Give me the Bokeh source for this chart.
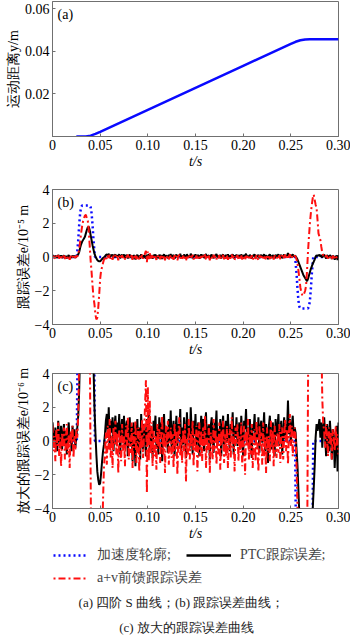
import numpy as np
from bokeh.plotting import figure
from bokeh.layouts import column
from bokeh.models import FixedTicker, Label, Range1d, Legend, LegendItem
from bokeh.embed import file_html
from bokeh.resources import INLINE

# ---------------- data ----------------
x_ticks = [0, 0.05, 0.10, 0.15, 0.20, 0.25, 0.30]
x_tick_labels = ["0", "0.05", "0.10", "0.15", "0.20", "0.25", "0.30"]
pos_ticks = [0, 0.02, 0.04, 0.06]
pos_tick_labels = ["", "0.02", "0.04", "0.06"]
err_ticks = [-4, -2, 0, 2, 4]
err_tick_labels = ["\u22124", "\u22122", "0", "2", "4"]

# (a) motion distance y / m
pos_t = [0.025, 0.030, 0.035, 0.040, 0.045, 0.050, 0.100, 0.150, 0.200, 0.250, 0.255, 0.260, 0.265, 0.270, 0.300]
pos_y = [0.0, 0.0, 0.00002, 0.0004, 0.0012, 0.0022, 0.0125, 0.0228, 0.0331, 0.0434, 0.0444, 0.0451, 0.0455, 0.0456, 0.0456]

# acceleration profile (shown in units of 1e-5 m)
acc_t = [0.0, 0.0255, 0.027, 0.028, 0.029, 0.030, 0.031, 0.039, 0.040, 0.041, 0.042, 0.043, 0.0445,
         0.2545, 0.256, 0.257, 0.258, 0.259, 0.260, 0.268, 0.269, 0.270, 0.271, 0.272, 0.2735, 0.300]
acc_v = [0.0, 0.0, 1.0, 1.9, 2.6, 2.95, 3.05, 3.05, 2.95, 2.6, 1.9, 1.0, 0.0,
         0.0, -1.0, -1.9, -2.6, -2.95, -3.05, -3.05, -2.95, -2.6, -1.9, -1.0, 0.0, 0.0]

# tracking errors, sampled every 1 ms, in units of 1e-6 m
sample_period = 0.001

# PTC tracking error
ptc_start = [1.1, 0.3, -0.4, 0.8, 0.2, -0.6, 1.2, 0.1, -0.2, 0.9,
             -0.5, 0.4, 1.0, -0.3, 0.6, -0.8, 0.2, 1.1, -0.1, 0.5,
             -0.6, 0.9, 0.0, 0.7, -0.4, 0.3, 0.8]
ptc_rise = [1.5, 3.0, 5.5, 7.5, 9.0, 10.0, 11.0, 12.0, 14.0, 16.0,
            17.5, 18.0, 16.0, 13.0, 10.0, 7.0, 4.5, 2.0, 0.5, -0.8,
            -1.8, -2.3, -2.6, -2.5, -1.9, -1.2, -0.6, -0.2, 0.4, 1.2]
ptc_mid = [1.6, 0.2, 2.0, -0.3, 1.2, 0.5, 1.4, -0.6, 0.9, 1.5,
           -0.2, 1.1, 0.4, 1.6, -0.8, 0.7, 1.3, 0.0, 1.5, -0.4,
           0.8, 1.2, -0.9, 0.6, 1.4, -0.3, 0.9, -1.2, 1.1, 0.3,
           -1.5, 0.5, 1.3, -0.7, 0.8, -1.1, 1.6, 0.2, -0.5, 1.0,
           0.4, -0.9, 1.3, 0.1, 1.7, -0.6, 0.9, 0.3, -1.0, 1.2,
           0.6, 1.5, -0.4, 0.8, -0.8, 1.4, 0.2, 1.1, -1.2, 0.7,
           1.6, -0.2, 0.9, 0.4, -0.7, 1.3, 0.0, 1.8, -0.5, 0.6,
           1.2, -0.9, 0.5, 1.5, -0.3, 1.0, 0.3, 1.9, -0.6, 0.8,
           -0.2, 1.4, 0.6, -1.0, 1.7, 0.2, 0.9, -0.4, 2.0, 0.5,
           -0.8, 1.2, 0.3, 1.6, -0.5, 0.7, 1.1, -0.9, 0.4, 1.5,
           0.0, 1.3, -0.6, 0.8, 1.7, -0.2, 0.5, 1.0, -1.1, 0.9,
           1.4, 0.2, -0.7, 1.1, 0.6, 1.8, -0.3, 0.7, 0.1, 1.3,
           -0.9, 0.8, 1.5, -0.4, 0.4, 1.2, -0.1, 1.6, 0.3, -0.6,
           1.0, 0.5, 1.7, -0.8, 0.9, 0.2, 1.4, -0.3, 0.6, 1.1,
           -0.5, 1.5, 0.4, -0.9, 1.2, 0.7, 1.9, 0.0, 0.8, -0.4,
           1.3, 0.3, -1.0, 1.0, 0.6, 1.6, -0.2, 0.9, 0.1, 1.4,
           -0.7, 0.8, 1.2, -0.1, 0.5, 1.7, -0.6, 1.0, 0.4, -1.3,
           0.9, 1.5, 0.2, -0.5, 1.1, 0.6, -0.9, 1.3, 0.3, 0.8,
           1.6, -0.3, 0.7, 1.2, -0.8, 0.5, 1.4, 0.1, 1.0, 0.6,
           2.4, 0.4, 1.3, -0.2, 0.9, 1.5, 0.3, 0.8]
ptc_fall = [0.5, -0.5, -1.5, -3.0, -4.5, -6.0, -7.5, -9.0, -10.5, -11.5,
            -12.5, -13.5, -14.3, -13.0, -11.0, -9.0, -7.0, -5.5, -4.0, -2.8,
            -1.5, 0.2, 1.0, 0.6]
ptc_end = [0.9, 1.3, 0.2, 1.1, -0.4, 0.8, 1.4, 0.3, -0.9, 1.0,
           0.5, -0.6, 1.2, 0.2, -1.1, 0.7, 0.4, -1.6, -0.2, 0.9,
           -1.8, 1.1]

# a+v feed-forward tracking error
ff_start = [0.9, -0.6, 0.3, -1.2, 0.7, -0.3, 1.1, -0.9, 0.2, -1.5,
            0.5, -0.4, 0.8, -1.1, 0.1, 1.0, -0.7, 0.4, -1.6, 0.6,
            -0.2, 0.9, -1.0, 0.3, -0.5, 0.7, 0.2]
ff_rise = [1.5, 5.0, 9.0, 14.0, 18.0, 21.0, 23.0, 24.5, 25.0, 23.0,
           21.5, 16.0, 7.0, -2.0, -9.0, -17.0, -24.0, -28.0, -34.0, -37.0,
           -36.0, -30.0, -22.0, -13.0, -8.0, -6.0, -3.5, -1.5, -0.8, 0.5]
ff_mid = [-1.4, 0.9, -0.5, 1.3, -1.0, 0.4, -1.6, 0.8, -0.2, 1.2,
          -0.8, 0.5, -1.9, 0.7, 0.1, -1.2, 1.0, -0.6, 0.3, -1.5,
          0.9, -0.3, 1.4, -1.1, 0.2, -0.7, 1.1, -1.6, 0.5, -0.4,
          1.2, -1.3, 0.0, 0.8, -1.8, 0.6, -0.5, 1.3, -1.0, 0.4,
          2.0, 3.6, -3.1, 3.2, -1.2, 2.4, -0.8, 1.1, -1.5, 0.6,
          -0.9, 0.3, -1.7, 1.0, -0.4, 0.7, -1.3, 0.2, 1.5, -0.8,
          0.5, -1.9, 0.9, -0.2, 1.2, -1.4, 0.0, 0.8, -1.0, 0.4,
          -1.6, 1.1, -0.5, 0.6, -2.0, 0.3, 1.4, -0.9, 0.1, -1.3,
          0.7, -0.6, 1.0, -2.4, 0.2, -0.8, 1.3, -1.1, 0.5, -0.3,
          1.2, -1.5, 0.4, -0.7, 0.9, -1.8, 0.1, 1.1, -0.9, 0.6,
          -1.2, 0.8, -0.3, 1.5, -1.6, 0.2, -0.6, 1.0, -1.9, 0.5,
          0.0, -1.1, 1.3, -0.5, 0.7, -1.4, 0.3, -0.8, 1.1, -1.7,
          0.6, -0.2, 1.2, -1.3, 0.4, -0.9, 0.9, -1.6, 0.1, 0.7,
          -1.0, 1.4, -0.4, 0.5, -1.8, 0.8, -0.1, 1.0, -1.2, 0.3,
          -0.7, 1.1, -1.5, 0.2, 0.9, -2.0, 0.6, -0.3, 1.3, -1.1,
          0.4, -0.8, 1.0, -1.6, 0.1, 0.7, -1.2, 1.2, -0.5, -1.8,
          0.9, -0.3, 0.5, -1.4, 1.1, -0.9, 0.2, -1.9, 0.8, -0.6,
          0.3, -1.2, 1.2, -0.4, 0.6, -1.5, 0.9, -0.2, -1.0, 0.5,
          -0.7, 1.0, -1.3, 0.4, 0.8, -1.1, 0.2, 1.3, -0.6, 0.7,
          -1.4, 0.5, 1.6, -0.3, 0.9, -0.9, 0.3, 0.8]
ff_fall = [0.2, -1.5, -4.0, -8.0, -13.0, -18.0, -21.0, -22.5, -23.0, -21.5,
           -20.0, -17.0, -8.0, 3.0, 12.0, 20.0, 26.0, 31.0, 35.0, 37.0,
           34.0, 31.0, 29.0, 22.0, 14.0, 12.0, 10.0, 6.0, 2.5, 1.0]
ff_end = [0.6, -0.4, 1.0, 0.2, -0.9, 0.8, -0.2, 0.5, -1.1, 0.7,
          0.1, -0.6, 0.9, -0.3, 0.4, -0.8]

legend_labels = ["加速度轮廓;", "PTC跟踪误差;", "a+v前馈跟踪误差"]
caption_lines = ["(a) 四阶 S 曲线；(b) 跟踪误差曲线；", "(c) 放大的跟踪误差曲线"]

# ---------------- assemble ----------------
ptc_um = np.array(ptc_start + ptc_rise + ptc_mid + ptc_fall + ptc_end)   # 1e-6 m
ff_um = np.array(ff_start + ff_rise + ff_mid + ff_fall + ff_end)         # 1e-6 m
t_ptc = np.arange(len(ptc_um)) * sample_period
t_ff = np.arange(len(ff_um)) * sample_period
acc_b = np.array(acc_v)            # 1e-5 m
acc_c = acc_b * 10.0               # 1e-6 m
ptc_b = ptc_um / 10.0
ff_b = ff_um / 10.0

SERIF = "serif"
BLUE = "#0a0aff"
RED = "#ff1010"
FRAME = "#707070"
BLUE_DASH = "2 3"
RED_DASH = "7 3 2 3"


def base_fig(height, top, yr, ylabel, yticks, ylabels):
    p = figure(width=350, height=height, x_range=Range1d(0, 0.30), y_range=Range1d(*yr),
               output_backend="svg", toolbar_location=None,
               min_border_left=52, min_border_right=12, min_border_top=top,
               min_border_bottom=34)
    p.grid.visible = False
    p.outline_line_color = FRAME
    p.outline_line_width = 1
    p.xaxis.ticker = FixedTicker(ticks=x_ticks)
    p.xaxis.major_label_overrides = dict(zip(x_ticks, x_tick_labels))
    p.yaxis.ticker = FixedTicker(ticks=yticks)
    p.yaxis.major_label_overrides = dict(zip(yticks, ylabels))
    for ax in (p.xaxis[0], p.yaxis[0]):
        ax.axis_line_color = FRAME
        ax.major_tick_line_color = FRAME
        ax.major_tick_in = 3
        ax.major_tick_out = 0
        ax.minor_tick_line_color = None
        ax.major_label_text_font = SERIF
        ax.major_label_text_font_size = "14px"
        ax.major_label_text_color = "black"
        ax.major_label_standoff = 3
        ax.axis_label_text_font = SERIF
        ax.axis_label_text_font_size = "14px"
        ax.axis_label_standoff = 1
        ax.axis_label_text_color = "black"
    p.xaxis.axis_label = "t/s"
    p.xaxis.axis_label_text_font_style = "italic"
    p.yaxis.axis_label = ylabel
    p.yaxis.axis_label_text_font_style = "normal"
    return p


def panel_tag(p, text, ytop):
    p.add_layout(Label(x=0, y=ytop, x_offset=5, y_offset=-5, text=text,
                       text_baseline="top", text_font=SERIF, text_font_size="14px",
                       text_color="black"))


# (a)
pa = base_fig(171, 1, (0, 0.0633), "运动距离y/m", pos_ticks, pos_tick_labels)
pa.line(pos_t, pos_y, line_color=BLUE, line_width=2.5)
panel_tag(pa, "(a)", 0.0633)

# (b)
pb = base_fig(188, 18, (-4, 4), "跟踪误差e/10\u207b\u2075 m", err_ticks, err_tick_labels)
pb.line(acc_t, acc_b, line_color=BLUE, line_width=2.5, line_dash=BLUE_DASH)
pb.line(t_ptc, ptc_b, line_color="black", line_width=2)
pb.line(t_ff, ff_b, line_color=RED, line_width=2, line_dash=RED_DASH)
panel_tag(pb, "(b)", 4)

# (c)
pc = base_fig(184, 14, (-4, 4), "放大的跟踪误差e/10\u207b\u2076 m", err_ticks, err_tick_labels)
pc.line(acc_t, acc_c, line_color=BLUE, line_width=2.5, line_dash=BLUE_DASH)
pc.line(t_ptc, ptc_um, line_color="black", line_width=2)
pc.line(t_ff, ff_um, line_color=RED, line_width=2, line_dash=RED_DASH)
panel_tag(pc, "(c)", 4)

# legend + caption (frame aligned with the panels above; x in page pixels)
pl = figure(width=350, height=95, x_range=Range1d(52, 338), y_range=Range1d(0, 95),
            output_backend="svg", toolbar_location=None,
            min_border_left=52, min_border_right=12, min_border_top=0, min_border_bottom=0,
            x_axis_type=None, y_axis_type=None)
pl.outline_line_color = None
r_acc = pl.line(acc_t, acc_b, line_color=BLUE, line_width=2.5, line_dash=BLUE_DASH, visible=False)
r_ptc = pl.line(t_ptc, ptc_b, line_color="black", line_width=2.5, visible=False)
r_ff = pl.line(t_ff, ff_b, line_color=RED, line_width=2, line_dash=RED_DASH, visible=False)

leg_style = dict(border_line_color=None, background_fill_alpha=0, padding=0, margin=0,
                 glyph_width=45, glyph_height=16, label_text_font=SERIF,
                 label_text_font_size="14px", label_standoff=9, spacing=15,
                 orientation="horizontal", click_policy="none")
leg1 = Legend(items=[LegendItem(label=legend_labels[0], renderers=[r_acc]),
                     LegendItem(label=legend_labels[1], renderers=[r_ptc])],
              location=(-9, 74), **leg_style)
leg2 = Legend(items=[LegendItem(label=legend_labels[2], renderers=[r_ff])],
              location=(-9, 51), **leg_style)
pl.add_layout(leg1)
pl.add_layout(leg2)
pl.add_layout(Label(x=181, y=36, text=caption_lines[0], text_align="center",
                    text_baseline="middle", text_font=SERIF, text_font_size="13px",
                    text_color="#222222"))
pl.add_layout(Label(x=186, y=11, text=caption_lines[1], text_align="center",
                    text_baseline="middle", text_font=SERIF, text_font_size="13px",
                    text_color="#222222"))

layout = column(pa, pb, pc, pl)
with open("out.html", "w", encoding="utf-8") as f:
    f.write(file_html(layout, INLINE))
